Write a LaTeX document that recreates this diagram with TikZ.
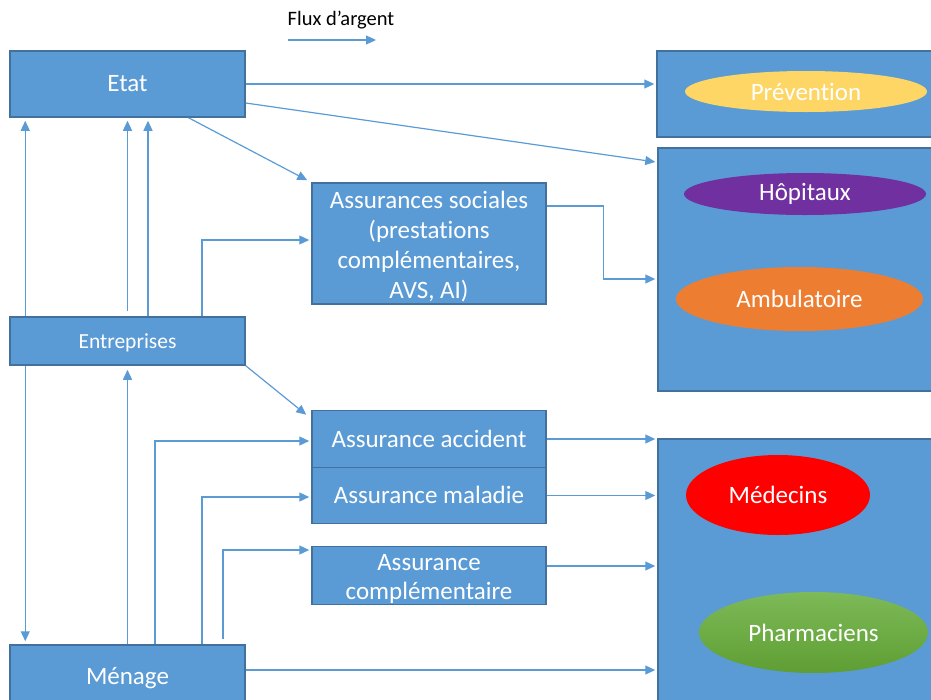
\documentclass[tikz,border=0pt]{standalone}
\usepackage{fontspec}
\setmainfont{Carlito}[Ligatures=NoCommon]
\usetikzlibrary{arrows.meta,shapes.geometric,backgrounds}
\definecolor{boxblue}{HTML}{5B9BD5}
\definecolor{boxedge}{HTML}{41719C}
\definecolor{flow}{HTML}{5B9BD5}
\definecolor{prevfill}{HTML}{FDD666}
\definecolor{hopfill}{HTML}{7030A0}
\definecolor{ambfill}{HTML}{ED7D31}
\definecolor{medfill}{HTML}{FF0000}
\definecolor{phtop}{HTML}{7DBA58}
\definecolor{phbot}{HTML}{5F9E33}
% centred stack of lines, lowered inside its box without changing the box size
\newcommand{\lines}[2]{\raisebox{#1}[\height][\depth]{\begin{tabular}{@{}c@{}}#2\end{tabular}}}
\tikzset{
  x=1pt, y=-1pt,
  actor/.style={rectangle, fill=boxblue, draw=boxedge, line width=1.5pt,
    inner sep=0pt, text=white, font=\fontsize{25}{30}\selectfont, align=center},
  provider/.style={rectangle, fill=boxblue, draw=boxedge, line width=1.5pt, inner sep=0pt},
  blob/.style={ellipse, inner sep=0pt, text=white, font=\fontsize{25}{30}\selectfont},
  money/.style={draw=flow, line width=1.2pt, -{Triangle[length=10pt,width=9pt]}, shorten >=2pt},
}
\begin{document}
\begin{tikzpicture}
\useasboundingbox (0,0) rectangle (931,699);

% legend
\node[font=\fontsize{20.5}{24}\selectfont] (legtxt) at (341,20) {Flux d’argent};
\coordinate (lg1) at (288,40);
\coordinate (lg2) at (376,40);
\draw[money, shorten >=0pt] (lg1) -- (lg2);

% economic actors
\node[actor, minimum width=235pt, minimum height=66pt] (etat) at (127.5,84) {\lines{-1pt}{Etat}};
\node[actor, minimum width=235pt, minimum height=48pt, font=\fontsize{21.5}{26}\selectfont] (entr) at (127.5,341) {\lines{-2pt}{Entreprises}};
\node[actor, minimum width=235pt, minimum height=60pt] (menage) at (127.5,675) {\lines{-3pt}{Ménage}};

% insurers
\node[actor, minimum width=234pt, minimum height=121pt] (asoc) at (429,243.5)
  {\lines{-3.5pt}{Assurances sociales\\(prestations\\complémentaires,\\AVS, AI)}};
\node[actor, minimum width=234pt, minimum height=57pt] (aacc) at (429,439) {\lines{-2pt}{Assurance accident}};
\node[actor, minimum width=234pt, minimum height=56pt] (amal) at (429,495.5) {\lines{-2pt}{Assurance maladie}};
\node[actor, minimum width=234pt, minimum height=57pt, font=\fontsize{25}{29}\selectfont] (acomp) at (429,575.5)
  {\lines{-4pt}{Assurance\\complémentaire}};

% providers
\node[provider, minimum width=278pt, minimum height=86pt] (prevbox) at (796,94) {};
\node[provider, minimum width=277pt, minimum height=243pt] (hopbox) at (796.5,269.5) {};
\node[provider, minimum width=277pt, minimum height=266pt] (medbox) at (796.5,572) {};

\node[blob, fill=prevfill, minimum width=242pt, minimum height=41pt] (prev) at (806,91.5) {Prévention};
\node[blob, fill=hopfill, minimum width=242pt, minimum height=42pt] (hop) at (805,194) {Hôpitaux};
\node[blob, fill=ambfill, minimum width=247pt, minimum height=64pt] (amb) at (799.5,299) {Ambulatoire};
\node[blob, fill=medfill, minimum width=184pt, minimum height=80pt] (med) at (778,495) {Médecins};
\node[blob, top color=phtop, bottom color=phbot, minimum width=229pt, minimum height=81pt] (pharm) at (813.5,632.5) {Pharmaciens};

% money flows
\begin{pgfonlayer}{background}
\draw[money, {Triangle[length=10pt,width=9pt]}-{Triangle[length=10pt,width=9pt]}, shorten <=3pt, shorten >=3pt]
  ([xshift=16pt]etat.south west) -- ([xshift=16pt]menage.north west);
\end{pgfonlayer}

\draw[money] (etat.east) -- (etat.east -| prevbox.west);
\draw[money] ([yshift=-19pt]etat.east) -- ([yshift=-15pt]hopbox.north west);
\draw[money, shorten >=0pt] ([xshift=61pt]etat.south) -- ([xshift=-4pt,yshift=2pt]asoc.north west);

\draw[money, shorten <=5pt, shorten >=3pt] (entr.north) -- (etat.south);
\draw[money, shorten >=3pt] ([xshift=20.5pt]entr.north) -- ([xshift=20.5pt]etat.south);
\draw[money] ([xshift=74.5pt]entr.north) |- ([yshift=3.5pt]asoc.west);
\draw[money, shorten >=0pt] (entr.south east) -- ([xshift=-5pt,yshift=-5pt]aacc.north west);

\draw[money, shorten >=4pt] (menage.north) -- (entr.south);
\draw[money] ([xshift=27.5pt]menage.north) |- ([yshift=-2pt]aacc.west);
\draw[money] ([xshift=74.5pt]menage.north) |- ([yshift=-1.5pt]amal.west);
\draw[money, shorten <=5pt] ([xshift=95.5pt]menage.north) |- ([yshift=25.5pt]acomp.west);

\draw[money] ([yshift=37.5pt]asoc.east) -- ++(57pt,0pt) |- ([yshift=-9.5pt]hopbox.west);
\draw[money] (aacc.east) -- (aacc.east -| medbox.west);
\draw[money] (amal.east) -- (amal.east -| medbox.west);
\draw[money] ([yshift=9.5pt]acomp.east) -- ([yshift=9.5pt]acomp.east -| medbox.west);
\draw[money] ([yshift=5pt]menage.east) -- ([yshift=5pt]menage.east -| medbox.west);
\end{tikzpicture}
\end{document}
